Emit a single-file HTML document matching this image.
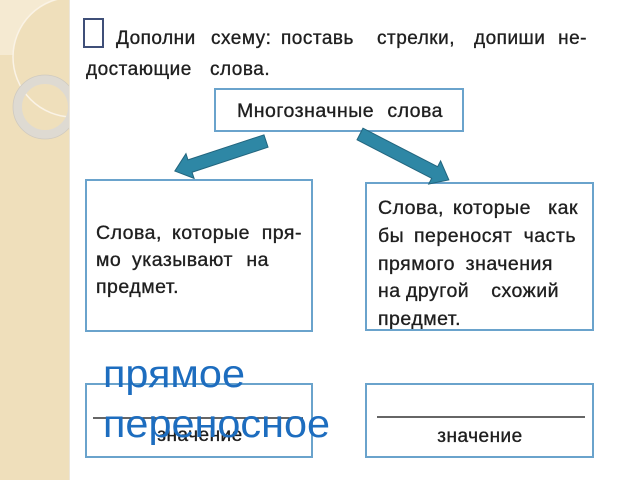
<!DOCTYPE html>
<html>
<head>
<meta charset="utf-8">
<style>
html,body{margin:0;padding:0;background:#fff;}
svg{display:block;}
.t{font-family:"Liberation Sans","DejaVu Sans",sans-serif;fill:#1f1f1f;stroke:#1f1f1f;stroke-width:0.35;letter-spacing:0.5px;}
.b{font-family:"Liberation Sans","DejaVu Sans",sans-serif;fill:#1d6dbf;}
</style>
</head>
<body>
<svg width="640" height="480" viewBox="0 0 640 480" xmlns="http://www.w3.org/2000/svg">
  <defs>
    <clipPath id="strip"><rect x="0" y="0" width="69" height="480"/></clipPath>
  </defs>
  <rect x="0" y="0" width="640" height="480" fill="#ffffff"/>
  <g clip-path="url(#strip)">
    <rect x="0" y="0" width="69" height="480" fill="#efdfbb"/>
    <path d="M0,0 L58,0 A60,60 0 0,0 13,55 L0,55 Z" fill="#f5ead2"/>
    <circle cx="73" cy="57" r="60" fill="none" stroke="#faf3e6" stroke-width="1.5"/>
    <circle cx="45" cy="107" r="27.5" fill="none" stroke="#dedad2" stroke-width="9"/>
    <circle cx="45" cy="107" r="32" fill="none" stroke="#cfcac0" stroke-width="0.8"/>
  </g>
  <line x1="69.5" y1="0" x2="69.5" y2="480" stroke="#ece6da" stroke-width="1"/>

  <!-- title -->
  <rect x="84" y="19" width="19" height="28" fill="#fff" stroke="#3f4f78" stroke-width="2"/>
  <g class="t" font-size="19">
    <text x="116" y="44">Дополни</text>
    <text x="211" y="44">схему:</text>
    <text x="281" y="44">поставь</text>
    <text x="377" y="44">стрелки,</text>
    <text x="474" y="44">допиши</text>
    <text x="587" y="44" text-anchor="end">не-</text>
    <text x="86" y="75">достающие</text>
    <text x="210" y="75">слова.</text>
  </g>

  <!-- boxes -->
  <g fill="#fff" stroke="#6aa3cc" stroke-width="2">
    <rect x="215" y="89" width="248" height="42"/>
    <rect x="86" y="180" width="226" height="151"/>
    <rect x="366" y="183" width="227" height="147"/>
    <rect x="86" y="384" width="226" height="73"/>
    <rect x="366" y="384" width="227" height="73"/>
  </g>

  <!-- top box text -->
  <g class="t" font-size="19.5">
    <text x="237" y="117">Многозначные</text>
    <text x="443" y="117" text-anchor="end">слова</text>
  </g>

  <!-- left box text -->
  <g class="t" font-size="19.5">
    <text x="96" y="239">Слова,</text>
    <text x="172" y="239">которые</text>
    <text x="302" y="239" text-anchor="end">пря-</text>
    <text x="96" y="266">мо</text>
    <text x="132" y="266">указывают</text>
    <text x="269" y="266" text-anchor="end">на</text>
    <text x="96" y="293">предмет.</text>
  </g>

  <!-- right box text -->
  <g class="t" font-size="19.5">
    <text x="378" y="214">Слова,</text>
    <text x="453" y="214">которые</text>
    <text x="578" y="214" text-anchor="end">как</text>
    <text x="378" y="242">бы</text>
    <text x="414" y="242">переносят</text>
    <text x="576" y="242" text-anchor="end">часть</text>
    <text x="378" y="270">прямого</text>
    <text x="553" y="270" text-anchor="end">значения</text>
    <text x="378" y="297">на</text>
    <text x="406" y="297">другой</text>
    <text x="559" y="297" text-anchor="end">схожий</text>
    <text x="378" y="325">предмет.</text>
  </g>
  <line x1="366" y1="330" x2="593" y2="330" stroke="#6aa3cc" stroke-width="2"/>

  <!-- bottom boxes content -->
  <line x1="93" y1="418" x2="303" y2="418" stroke="#333" stroke-width="1.5"/>
  <line x1="377" y1="417" x2="585" y2="417" stroke="#333" stroke-width="1.5"/>
  <g class="t" font-size="19">
    <text x="200" y="441" text-anchor="middle">значение</text>
    <text x="480" y="442" text-anchor="middle">значение</text>
  </g>

  <!-- arrows -->
  <g fill="#2e87a5" stroke="#22657e" stroke-width="1">
    <polygon transform="translate(266,141) rotate(161.75)" points="0,-6.5 80,-6.5 80,-13 96,0 80,13 80,6.5 0,6.5"/>
    <polygon transform="translate(360,134) rotate(27.3)" points="0,-6.5 84,-6.5 84,-13 100,0 84,13 84,6.5 0,6.5"/>
  </g>

  <!-- blue overlay words -->
  <g class="b" font-size="39">
    <text x="103" y="387" textLength="142" lengthAdjust="spacingAndGlyphs">прямое</text>
    <text x="103" y="437" textLength="227" lengthAdjust="spacingAndGlyphs">переносное</text>
  </g>
</svg>
</body>
</html>
